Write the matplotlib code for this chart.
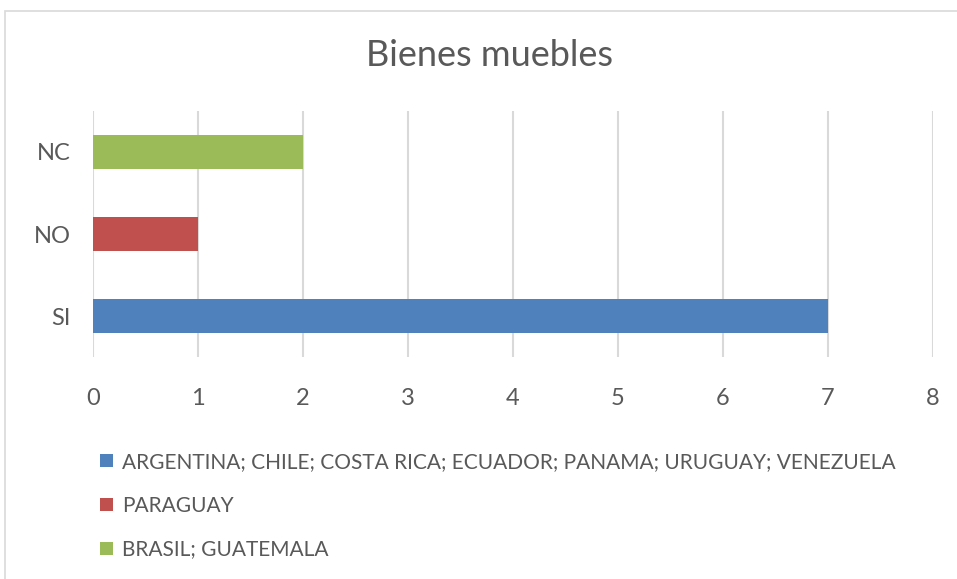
import matplotlib.pyplot as plt
from matplotlib.patches import Rectangle

categories = ["SI", "NO", "NC"]
values = [7, 1, 2]
colors = ["#4F81BD", "#C0504D", "#9BBB59"]
legend_labels = [
    "ARGENTINA; CHILE; COSTA RICA; ECUADOR; PANAMA; URUGUAY; VENEZUELA",
    "PARAGUAY",
    "BRASIL; GUATEMALA",
]
x_ticks = [0, 1, 2, 3, 4, 5, 6, 7, 8]

plt.rcParams["font.family"] = ["Lato", "DejaVu Sans"]
text_color = "#595959"
grid_color = "#D9D9D9"

fig = plt.figure(figsize=(9.57, 5.79), dpi=100)
ax = fig.add_axes([0.0972, 0.3834, 0.8777, 0.4249])

bars = ax.barh(range(len(categories)), values, height=0.41, color=colors, zorder=3)

ax.set_xlim(0, 8)
ax.set_ylim(-0.5, 2.5)
ax.set_xticks(x_ticks)
ax.set_xticklabels([str(t) for t in x_ticks])
ax.set_yticks(range(len(categories)))
ax.set_yticklabels(categories)
ax.tick_params(axis="both", length=0, colors=text_color, labelsize=17)
ax.tick_params(axis="x", pad=22)
ax.tick_params(axis="y", pad=16)
ax.grid(axis="x", color=grid_color, linewidth=1.5, zorder=0)
for spine in ax.spines.values():
    spine.set_visible(False)

fig.text(0.511, 0.905, "Bienes muebles", ha="center", va="center",
         fontsize=26, color=text_color)

fig.legend(bars, legend_labels, loc="upper left", bbox_to_anchor=(0.105, 0.220),
           frameon=False, fontsize=15, labelcolor=text_color,
           handlelength=0.6, handleheight=0.6, handletextpad=0.45,
           labelspacing=1.15, borderaxespad=0, borderpad=0)

fig.patches.append(Rectangle((5 / 957, -0.05), 1.1, 1 - 11 / 579 + 0.05,
                             transform=fig.transFigure, fill=False,
                             edgecolor=grid_color, linewidth=1.2))

fig.savefig("out.png", dpi=100)
plt.close(fig)
